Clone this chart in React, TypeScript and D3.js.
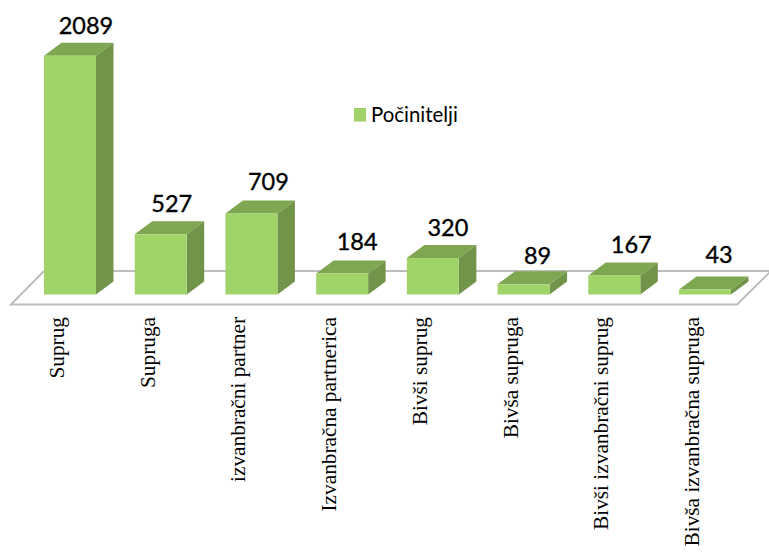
import React from 'react';
import * as d3 from 'd3';

const categories = [
  'Suprug',
  'Supruga',
  'izvanbračni partner',
  'Izvanbračna partnerica',
  'Bivši suprug',
  'Bivša supruga',
  'Bivši izvanbračni suprug',
  'Bivša izvanbračna supruga',
];
const values = [2089, 527, 709, 184, 320, 89, 167, 43];
const seriesName = 'Počinitelji';

const width = 769,
  height = 552,
  baseY = 294.5,
  depthX = 17.5,
  depthY = 13,
  front = '#a0d468',
  top = '#7fa650',
  side = '#71944a';

// the value labels are not placed evenly in the original
const labelNudgeX = [1, -4, 2, 0, 0, -1, 2, -1];
const labelNudgeY = [1, 1, 0, 0, 1, 3, 1, -4];

const x = d3.scaleBand<string>().domain(categories).range([44, 731]).paddingInner(0.427);
const y = d3.scaleLinear().domain([0, 2089]).range([baseY, 55.7]);

const line = d3.line();

const App = () => {
  const floor = line([
    [44, 271],
    [771, 271],
    [737, 304.5],
    [11, 304.5],
    [44, 271],
  ]);

  return (
    <svg width={width} height={height} style={{ position: 'absolute', left: 0, top: 0 }}>
      <path d={floor!} fill="#fff" stroke="#bdbdbd" strokeWidth={2} />
      {categories.map((c, i) => {
        const x0 = x(c)!;
        const x1 = x0 + x.bandwidth();
        const yTop = y(values[i]);
        return (
          <g key={c}>
            <path
              d={line([[x1, yTop], [x1 + depthX, yTop - depthY], [x1 + depthX, baseY - depthY], [x1, baseY]])!}
              fill={side}
            />
            <path
              d={line([[x0, yTop], [x0 + depthX, yTop - depthY], [x1 + depthX, yTop - depthY], [x1, yTop]])!}
              fill={top}
            />
            <rect x={x0} y={yTop} width={x.bandwidth()} height={baseY - yTop} fill={front} />
            <text
              x={x0 + x.bandwidth() / 2 + 15 + labelNudgeX[i]}
              y={yTop - depthY - 10 + labelNudgeY[i]}
              textAnchor="middle"
              fontFamily="Lato"
              fontSize={23.5}
              stroke="#000"
              strokeWidth={0.35}
              fill="#000"
            >
              {values[i]}
            </text>
            <text
              transform={`translate(${x0 + x.bandwidth() / 2 - 6},317) rotate(-90)`}
              textAnchor="end"
              fontFamily="Liberation Serif"
              fontSize={21.3}
              fill="#000"
            >
              {c}
            </text>
          </g>
        );
      })}
      <rect x={354} y={108} width={12} height={13.5} fill={front} />
      <text x={371} y={122} fontFamily="Lato" fontSize={20.4} fill="#000">
        {seriesName}
      </text>
    </svg>
  );
};

export default App;
